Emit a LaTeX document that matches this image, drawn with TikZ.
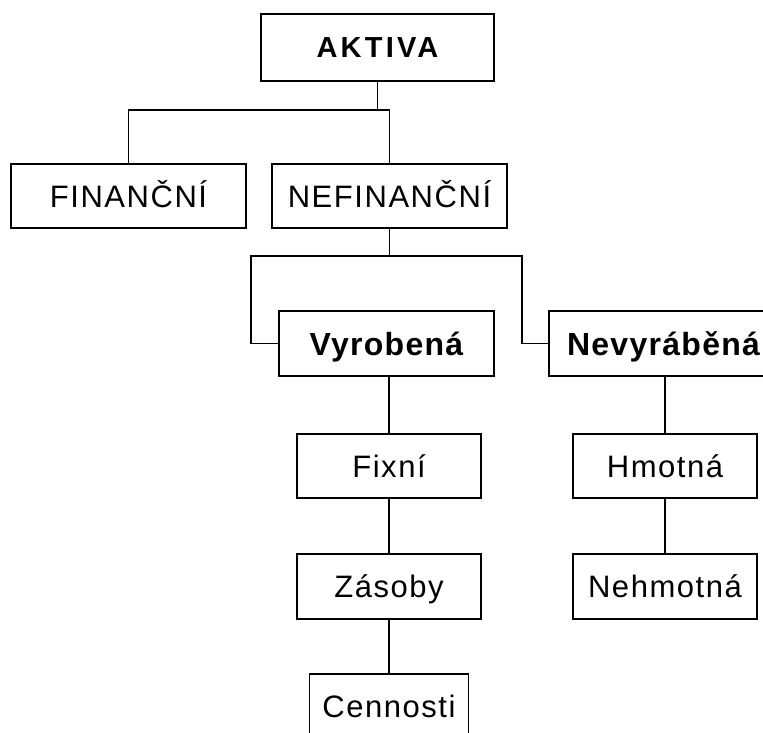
\documentclass[tikz,border=0pt]{standalone}
\usepackage{fontspec}
\setmainfont{Liberation Sans}
\newfontfamily\regf[LetterSpace=5]{Liberation Sans}
\newfontfamily\boldf[LetterSpace=11]{Liberation Sans Bold}
\newfontfamily\boldg[LetterSpace=4]{Liberation Sans Bold}
\begin{document}
\begin{tikzpicture}[x=1pt,y=-1pt,
  box/.style={draw=black,line width=1.6pt,fill=white,inner sep=0pt,anchor=center},
  reg/.style={box,text height=22pt,text depth=0pt,font=\regf\fontsize{31}{32}\selectfont},
  bld/.style={box,text height=21pt,text depth=0pt,font=\boldf\fontsize{29}{30}\selectfont},
  bldg/.style={box,text height=23pt,text depth=0pt,font=\boldg\fontsize{32}{33}\selectfont},
  conn/.style={line width=1.6pt,draw=black}]
\useasboundingbox (0,0) rectangle (763,733);
\fill[white] (0,0) rectangle (763,733);
\clip (0,0) rectangle (763,733);
\node[bld,minimum width=233pt,minimum height=67pt] (aktiva) at (377.5,47.5) {AKTIVA};
\node[reg,minimum width=235pt,minimum height=64pt] (fin) at (128.5,196) {FINANČNÍ};
\node[reg,minimum width=235pt,minimum height=64pt] (nefin) at (389.5,196) {NEFINANČNÍ};
\node[bldg,minimum width=215pt,minimum height=65pt] (vyrob) at (386.5,343.5) {Vyrobená};
\node[bldg,minimum width=229pt,minimum height=65pt] (nevyr) at (663.5,343.5) {Nevyráběná};
\node[reg,minimum width=184pt,minimum height=64pt] (fix) at (389,466) {Fixní};
\node[reg,minimum width=184pt,minimum height=65pt] (zas) at (389,586.5) {Zásoby};
\node[reg,minimum width=159pt,minimum height=65pt] (cen) at (389,706.5) {Cennosti};
\node[reg,minimum width=184pt,minimum height=64pt] (hmot) at (665,466) {Hmotná};
\node[reg,minimum width=184pt,minimum height=65pt] (nehmot) at (665,586.5) {Nehmotná};
\draw[conn] (aktiva.south) -- ++(0,28) -| (fin.north);
\draw[conn] (aktiva.south) -- ++(0,28) -| (nefin.north);
\draw[conn] (nefin.south) -- ++(0,27) -| ([xshift=-27pt]vyrob.west) -- (vyrob.west);
\draw[conn] (nefin.south) -- ++(0,27) -| ([xshift=-26pt]nevyr.west) -- (nevyr.west);
\draw[conn] (fix.north |- vyrob.south) -- (fix.north);
\draw[conn] (fix.south) -- (zas.north);
\draw[conn] (zas.south) -- (cen.north);
\draw[conn] (hmot.north |- nevyr.south) -- (hmot.north);
\draw[conn] (hmot.south) -- (nehmot.north);
\end{tikzpicture}
\end{document}
